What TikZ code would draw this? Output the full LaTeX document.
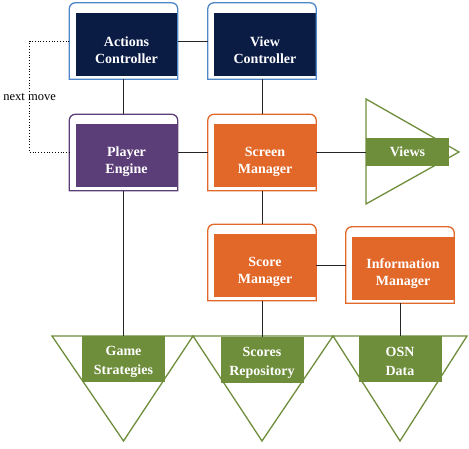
\documentclass[tikz,border=0pt]{standalone}
\usepackage{fontspec}
\setmainfont{Liberation Serif}
\usetikzlibrary{positioning, calc, fit}
\definecolor{ctrlnavy}{RGB}{10,27,68}
\definecolor{ctrlblue}{RGB}{79,134,198}
\definecolor{enginepurple}{RGB}{91,61,119}
\definecolor{mgrorange}{RGB}{226,104,42}
\definecolor{datagreen}{RGB}{111,142,60}
\tikzset{
  block/.style={fill=#1, minimum width=102pt, minimum height=63pt, inner sep=0pt},
  blocktext/.style={align=center, text=white, font=\fontsize{14}{17}\selectfont\bfseries, yshift=-5.5pt, inner sep=0pt},
  frame/.style={draw=#1, line width=1.3pt},
  store/.style={fill=datagreen, text=white, font=\fontsize{14}{19}\selectfont\bfseries, minimum width=83pt, minimum height=46pt, inner sep=0pt, align=center},
  storetext/.style={align=center, text=white, font=\fontsize{14}{19}\selectfont\bfseries, yshift=-2.5pt, inner sep=0pt},
  funnel/.style={draw=datagreen, line width=1.3pt, fill=white},
  link/.style={draw=black!85, line width=0.8pt}
}
% outer frame with rounded top corners, plus a fitted node (#1-f) for connectors
\newcommand{\blockframe}[2]{
  \draw[frame=#2] ($(#1.south west)+(-6,-3)$) [rounded corners=6pt] -- ($(#1.north west)+(-6,10)$) -- ($(#1.north east)+(0,10)$) [sharp corners] -- ($(#1.south east)+(0,-3)$) -- cycle;
  \node[fit={($(#1.south west)+(-6,-3)$) ($(#1.north east)+(0,10)$)}, inner sep=0pt] (#1-f) {};
}

\begin{document}
\begin{tikzpicture}[x=1pt, y=1pt]
  \useasboundingbox (0,0) rectangle (469,449);

  % Funnels
  \draw[funnel] (366,350) -- (459,297) -- (366,245) -- cycle;
  \draw[funnel] (52,113) -- (193,113) -- (123.5,8) -- cycle;
  \draw[funnel] (193,113) -- (333,113) -- (262,8) -- cycle;
  \draw[funnel] (333,113) -- (467,113) -- (400,8) -- cycle;

  % Controllers
  \node[block=ctrlnavy, label={[blocktext]center:{Actions\\Controller}}] (ac) at (126.5,404.5) {};
  \blockframe{ac}{ctrlblue}
  \node[block=ctrlnavy, label={[blocktext]center:{View\\Controller}}] (vc) at (265,404.5) {};
  \blockframe{vc}{ctrlblue}

  % Engine and managers
  \node[block=enginepurple, label={[blocktext]center:{Player\\Engine}}] (pe) at (126.5,293) {};
  \blockframe{pe}{enginepurple}
  \node[block=mgrorange, label={[blocktext]center:{Screen\\Manager}}] (sm) at (265,293) {};
  \blockframe{sm}{mgrorange}
  \node[block=mgrorange, label={[blocktext]center:{Score\\Manager}}] (scm) at (265,183) {};
  \blockframe{scm}{mgrorange}
  \node[block=mgrorange, label={[blocktext]center:{Information\\Manager}}] (im) at (403,180.5) {};
  \blockframe{im}{mgrorange}

  % Data stores
  \node[store, minimum height=28pt] (vw) at (407.5,297) {Views};
  \node[store, label={[storetext]center:{Game\\Strategies}}] (gs) at (123.5,90) {};
  \node[store, label={[storetext]center:{Scores\\Repository}}] (sr) at (262,89) {};
  \node[store, label={[storetext]center:{OSN\\Data}}] (od) at (400,90) {};

  % Connectors
  \draw[link] (ac-f.east) -- (vc-f.west);
  \draw[link] (ac-f.south) -- (pe-f.north);
  \draw[link] (vc-f.south) -- (sm-f.north);
  \draw[link] (pe-f.east) -- (sm-f.west);
  \draw[link] (sm-f.east) -- (sm-f.east -| vw.west);
  \draw[link] (sm-f.south) -- (scm-f.north);
  \draw[link] (im-f.west) -- (im-f.west -| scm-f.east);
  \draw[link] (pe-f.south) -- (gs.north);
  \draw[link] (scm-f.south) -- (sr.north);
  \draw[link] (im-f.south) -- (od.north);
  \draw[dotted, line width=0.8pt] (ac-f.west) -- ++(-39.5,0) |- node[pos=0.25, fill=white, inner sep=1pt, font=\fontsize{12.5}{14}\selectfont] (nm) {next move} (pe-f.west);
\end{tikzpicture}
\end{document}
